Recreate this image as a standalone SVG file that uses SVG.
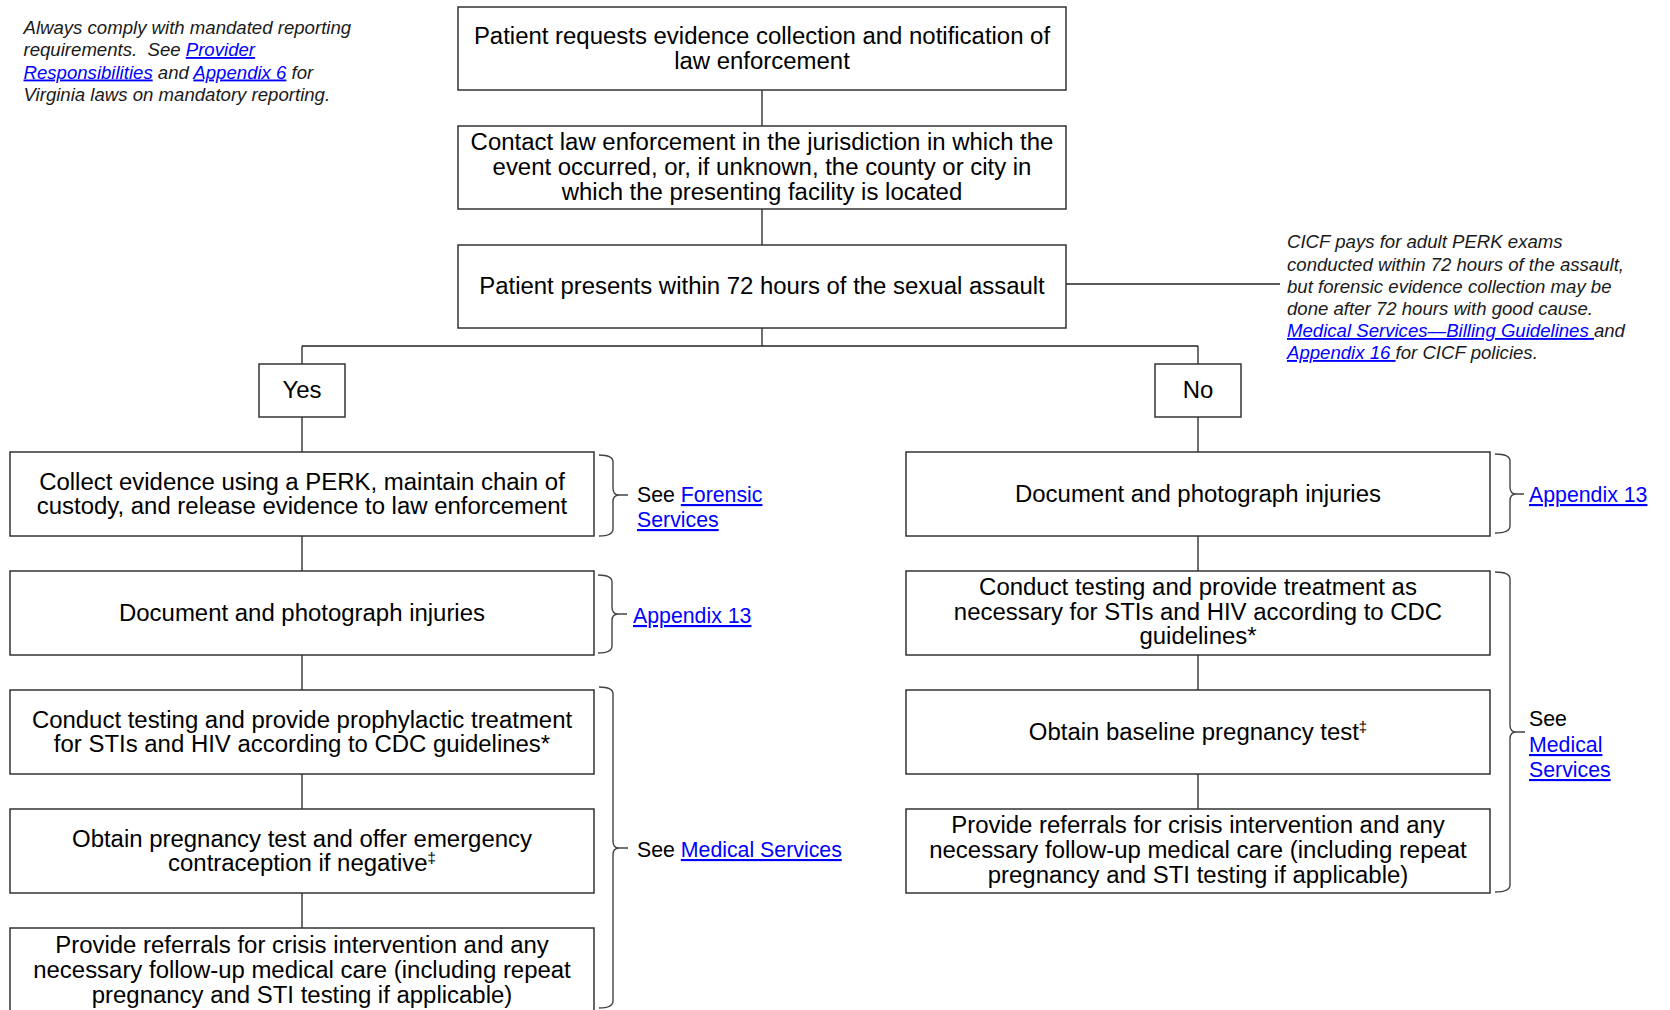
<svg xmlns="http://www.w3.org/2000/svg" width="1670" height="1010" viewBox="0 0 1670 1010">
<style>
.box{fill:#fff;stroke:#333;stroke-width:1.5}
.t{font-family:"Liberation Sans",Arial,sans-serif;font-size:23.95px;fill:#000;text-anchor:middle}
.side{font-family:"Liberation Sans",Arial,sans-serif;font-size:21.3px;fill:#000}
.note{font-family:"Liberation Sans",Arial,sans-serif;font-size:18.6px;font-style:italic;fill:#1a1a1a}
.lk{fill:#0000ff;text-decoration:underline}
.sup{font-size:15px}
.con{fill:none;stroke:#222;stroke-width:1.3}
.br{fill:none;stroke:#444;stroke-width:1.4}
</style>
<rect width="1670" height="1010" fill="#fff"/>

<g id="connectors">
<path class="con" d="M762,90V126M762,209V245M762,328V346M302,346H1198M302,346V364M1198,346V364M302,417V452M1198,417V452"/>
<path class="con" d="M302,536V571M302,655V690M302,774V809M302,893V928"/>
<path class="con" d="M1198,536V571M1198,655V690M1198,774V809"/>
<path class="con" stroke="#555" d="M1066,284H1280"/>
</g>

<g id="note-left">
<text class="note" x="23.5" y="34">Always comply with mandated reporting</text>
<text class="note" x="23.5" y="56" xml:space="preserve">requirements.  See <tspan class="lk">Provider</tspan></text>
<text class="note" x="23.5" y="78.5"><tspan class="lk">Responsibilities</tspan> and <tspan class="lk">Appendix 6</tspan> for</text>
<text class="note" x="23.5" y="100.5">Virginia laws on mandatory reporting.</text>
</g>

<g id="note-right">
<text class="note" x="1287" y="248">CICF pays for adult PERK exams</text>
<text class="note" x="1287" y="270.5">conducted within 72 hours of the assault,</text>
<text class="note" x="1287" y="292.5">but forensic evidence collection may be</text>
<text class="note" x="1287" y="314.5">done after 72 hours with good cause.</text>
<text class="note" x="1287" y="337" xml:space="preserve"><tspan class="lk">Medical Services—Billing Guidelines </tspan>and</text>
<text class="note" x="1287" y="359" xml:space="preserve"><tspan class="lk">Appendix 16 </tspan>for CICF policies.</text>
</g>

<g id="n1">
<rect class="box" x="458" y="7" width="608" height="83"/>
<text class="t" x="762" y="44">Patient requests evidence collection and notification of</text>
<text class="t" x="762" y="68.5">law enforcement</text>
</g>
<g id="n2">
<rect class="box" x="458" y="126" width="608" height="83"/>
<text class="t" x="762" y="150">Contact law enforcement in the jurisdiction in which the</text>
<text class="t" x="762" y="175">event occurred, or, if unknown, the county or city in</text>
<text class="t" x="762" y="200">which the presenting facility is located</text>
</g>
<g id="n3">
<rect class="box" x="458" y="245" width="608" height="83"/>
<text class="t" x="762" y="294">Patient presents within 72 hours of the sexual assault</text>
</g>
<g id="yes">
<rect class="box" x="259" y="364" width="86" height="53"/>
<text class="t" x="302" y="398">Yes</text>
</g>
<g id="no">
<rect class="box" x="1155" y="364" width="86" height="53"/>
<text class="t" x="1198" y="398">No</text>
</g>

<g id="l1">
<rect class="box" x="10" y="452" width="584" height="84"/>
<text class="t" x="302" y="490">Collect evidence using a PERK, maintain chain of</text>
<text class="t" x="302" y="514">custody, and release evidence to law enforcement</text>
</g>
<g id="l2">
<rect class="box" x="10" y="571" width="584" height="84"/>
<text class="t" x="302" y="621">Document and photograph injuries</text>
</g>
<g id="l3">
<rect class="box" x="10" y="690" width="584" height="84"/>
<text class="t" x="302" y="728">Conduct testing and provide prophylactic treatment</text>
<text class="t" x="302" y="752">for STIs and HIV according to CDC guidelines*</text>
</g>
<g id="l4">
<rect class="box" x="10" y="809" width="584" height="84"/>
<text class="t" x="302" y="847">Obtain pregnancy test and offer emergency</text>
<text class="t" x="302" y="871">contraception if negative<tspan class="sup" dy="-8">‡</tspan></text>
</g>
<g id="l5">
<rect class="box" x="10" y="928" width="584" height="84"/>
<text class="t" x="302" y="953">Provide referrals for crisis intervention and any</text>
<text class="t" x="302" y="977.5">necessary follow-up medical care (including repeat</text>
<text class="t" x="302" y="1002.5">pregnancy and STI testing if applicable)</text>
</g>

<g id="r1">
<rect class="box" x="906" y="452" width="584" height="84"/>
<text class="t" x="1198" y="502">Document and photograph injuries</text>
</g>
<g id="r2">
<rect class="box" x="906" y="571" width="584" height="84"/>
<text class="t" x="1198" y="595">Conduct testing and provide treatment as</text>
<text class="t" x="1198" y="620">necessary for STIs and HIV according to CDC</text>
<text class="t" x="1198" y="644">guidelines*</text>
</g>
<g id="r3">
<rect class="box" x="906" y="690" width="584" height="84"/>
<text class="t" x="1198" y="740">Obtain baseline pregnancy test<tspan class="sup" dy="-8">‡</tspan></text>
</g>
<g id="r4">
<rect class="box" x="906" y="809" width="584" height="84"/>
<text class="t" x="1198" y="833">Provide referrals for crisis intervention and any</text>
<text class="t" x="1198" y="858">necessary follow-up medical care (including repeat</text>
<text class="t" x="1198" y="883">pregnancy and STI testing if applicable)</text>
</g>

<g id="brace-l1">
<path class="br" d="M599,455Q613,455 613,462V488Q613,495 619,495Q613,495 613,502V529Q613,536 599,536M619,495H628"/>
<text class="side" x="637" y="502">See <tspan class="lk">Forensic</tspan></text>
<text class="side" x="637" y="527"><tspan class="lk">Services</tspan></text>
</g>
<g id="brace-l2">
<path class="br" d="M598,575Q612,575 612,582V607Q612,614 618,614Q612,614 612,621V646Q612,653 598,653M618,614H627"/>
<text class="side" x="633" y="623"><tspan class="lk">Appendix 13</tspan></text>
</g>
<g id="brace-l3">
<path class="br" d="M599,687Q613,687 613,694V841Q613,848 619,848Q613,848 613,855V1001Q613,1008 599,1008M619,848H628"/>
<text class="side" x="637" y="857">See <tspan class="lk">Medical Services</tspan></text>
</g>
<g id="brace-r1">
<path class="br" d="M1495,454Q1510,454 1510,461V487Q1510,494 1516,494Q1510,494 1510,501V526Q1510,533 1495,533M1516,494H1524"/>
<text class="side" x="1529" y="502"><tspan class="lk">Appendix 13</tspan></text>
</g>
<g id="brace-r2">
<path class="br" d="M1495,572Q1510,572 1510,579V725Q1510,732 1516,732Q1510,732 1510,739V885Q1510,892 1495,892M1516,732H1525"/>
<text class="side" x="1529" y="726">See</text>
<text class="side" x="1529" y="752"><tspan class="lk">Medical</tspan></text>
<text class="side" x="1529" y="777"><tspan class="lk">Services</tspan></text>
</g>
</svg>
